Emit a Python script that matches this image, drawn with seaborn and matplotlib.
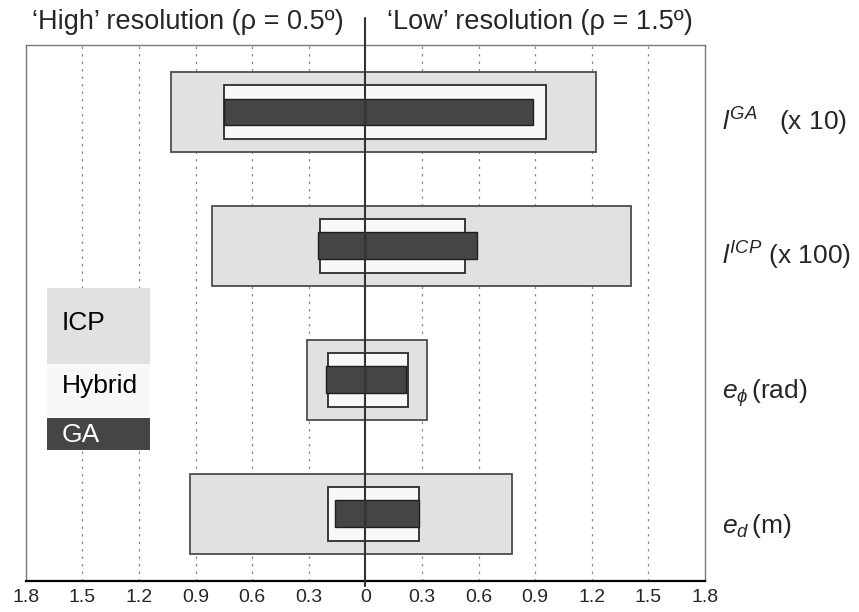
import matplotlib
matplotlib.use('Agg')
import matplotlib.pyplot as plt
from matplotlib.patches import Rectangle
from matplotlib.ticker import FixedLocator, FixedFormatter
import seaborn as sns

# ---------------- data ----------------
row_keys = ['lGA', 'lICP', 'ephi', 'ed']
row_labels = [r'$l^{GA}$   (x 10)', r'$l^{ICP}$ (x 100)', r'$e_{\phi}\,$(rad)', r'$e_{d}\,$(m)']
methods = ['ICP', 'Hybrid', 'GA']

# 'High' resolution (rho = 0.5) -> drawn to the left
icp_high = [1.03, 0.81, 0.31, 0.93]
hybrid_high = [0.75, 0.24, 0.20, 0.20]
ga_high = [0.75, 0.25, 0.21, 0.16]
# 'Low' resolution (rho = 1.5) -> drawn to the right
icp_low = [1.22, 1.41, 0.325, 0.775]
hybrid_low = [0.96, 0.53, 0.225, 0.285]
ga_low = [0.89, 0.59, 0.215, 0.283]

tick_values = [-1.8, -1.5, -1.2, -0.9, -0.6, -0.3, 0, 0.3, 0.6, 0.9, 1.2, 1.5, 1.8]
tick_labels = ['1.8', '1.5', '1.2', '0.9', '0.6', '0.3', '0', '0.3', '0.6', '0.9', '1.2', '1.5', '1.8']
grid_values = [-1.5, -1.2, -0.9, -0.6, -0.3, 0.3, 0.6, 0.9, 1.2, 1.5]

# ---------------- style ----------------
sns.set_style('white')
plt.rcParams['font.family'] = ['Liberation Sans', 'DejaVu Sans']
plt.rcParams['mathtext.fontset'] = 'custom'
plt.rcParams['mathtext.rm'] = 'Liberation Sans'
plt.rcParams['mathtext.it'] = 'Liberation Sans:italic'
plt.rcParams['mathtext.bf'] = 'Liberation Sans:bold'

fig = plt.figure(figsize=(8.59, 6.12), dpi=100)
ax = fig.add_axes([0.0299, 0.0511, 0.7908, 0.8754])

styles = {
    'ICP':    dict(width=0.596, color='#e1e1e1', edgecolor='#4d4d4d', linewidth=1.3),
    'Hybrid': dict(width=0.40,  color='#f8f8f8', edgecolor='#2a2a2a', linewidth=1.3),
    'GA':     dict(width=0.20,  color='#454545', edgecolor='#1e1e1e', linewidth=1.0),
}
series = {
    'ICP': (icp_high, icp_low),
    'Hybrid': (hybrid_high, hybrid_low),
    'GA': (ga_high, ga_low),
}

for m in methods:
    high, low = series[m]
    st = styles[m]
    for vals in ([-v for v in high], list(low)):
        sns.barplot(x=vals, y=row_keys, orient='h', errorbar=None, saturation=1,
                    width=st['width'], color=st['color'], edgecolor=st['edgecolor'],
                    linewidth=st['linewidth'], ax=ax, zorder=3)

ax.set_xlim(-1.8, 1.8)
ax.set_ylim(3.5, -0.5)
ax.set_xlabel('')
ax.set_ylabel('')
ax.set_yticks([])
ax.xaxis.set_major_locator(FixedLocator(tick_values))
ax.xaxis.set_major_formatter(FixedFormatter(tick_labels))
ax.tick_params(axis='x', length=0, pad=6, labelsize=14)

for g in grid_values:
    ax.axvline(g, color='#8a8a8a', lw=0.9, ls=(0, (2, 4)), zorder=1)

ax.axvline(0, ymin=-0.01, ymax=1.05, clip_on=False, color='#333333', lw=1.5, zorder=10)

for side in ['left', 'top', 'right']:
    ax.spines[side].set_color('#7a7a7a')
    ax.spines[side].set_linewidth(1.0)
ax.spines['bottom'].set_color('#000000')
ax.spines['bottom'].set_linewidth(1.6)

# right-hand row labels
for i, lab in enumerate(row_labels):
    ax.text(1.025, i + 0.14, lab, transform=ax.get_yaxis_transform(),
            ha='left', va='baseline', fontsize=19, clip_on=False)

# legend blocks
lx, lw_ = 0.0314, 0.1516
legend_blocks = [
    ('ICP', 0.4045, 0.1419, '#e1e1e1', 'black', 0.481),
    ('Hybrid', 0.3037, 0.1008, '#f8f8f8', 'black', 0.3635),
    ('GA', 0.244, 0.0597, '#454545', 'white', 0.272),
]
for name, y0, h, fc, tc, ty in legend_blocks:
    ax.add_patch(Rectangle((lx, y0), lw_, h, transform=ax.transAxes,
                           facecolor=fc, edgecolor='none', zorder=6))
    ax.text(0.0534, ty, name, transform=ax.transAxes, ha='left', va='center',
            fontsize=19, color=tc, zorder=7)

# titles
fig.text(188 / 859, 1 - 22 / 612, '\u2018High\u2019 resolution (\u03c1 = 0.5\u00ba)',
         ha='center', va='center', fontsize=19.5)
fig.text(540 / 859, 1 - 22 / 612, '\u2018Low\u2019 resolution (\u03c1 = 1.5\u00ba)',
         ha='center', va='center', fontsize=19.5)

fig.savefig('out.png', dpi=100)
